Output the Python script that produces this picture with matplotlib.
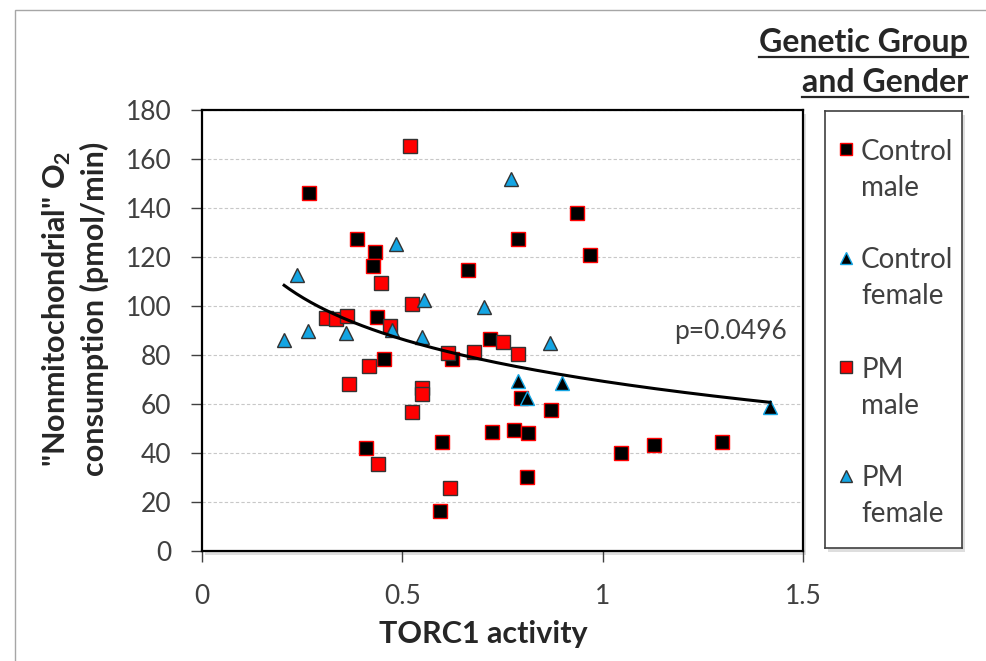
import matplotlib
matplotlib.use("Agg")
import matplotlib.pyplot as plt
from matplotlib.patches import Rectangle
from matplotlib.lines import Line2D
import numpy as np

plt.rcParams['font.family'] = ['Lato', 'DejaVu Sans']
plt.rcParams['mathtext.fontset'] = 'custom'
plt.rcParams['mathtext.rm'] = 'Lato'
plt.rcParams['mathtext.bf'] = 'Lato:bold'

# data
ctrl_male_x = [0.268, 0.388, 0.432, 0.427, 0.663, 0.438, 0.455, 0.625, 0.720, 0.797, 0.870,
               0.600, 0.725, 0.410, 0.595, 0.778, 0.813, 0.810, 1.045, 1.128, 1.297, 0.937,
               0.788, 0.968]
ctrl_male_y = [146.0, 127.5, 122.0, 116.5, 114.5, 95.7, 78.2, 78.2, 86.5, 62.5, 57.6,
               44.5, 48.5, 42.0, 16.3, 49.3, 48.0, 30.2, 39.9, 43.2, 44.6, 138.0,
               127.4, 121.0]

ctrl_female_x = [0.788, 0.898, 0.810, 1.418]
ctrl_female_y = [69.4, 68.4, 62.5, 58.8]

pm_male_x = [0.518, 0.448, 0.525, 0.310, 0.335, 0.362, 0.470, 0.615, 0.680, 0.750, 0.788,
             0.418, 0.368, 0.550, 0.550, 0.525, 0.440, 0.618]
pm_male_y = [165.5, 109.5, 101.0, 95.0, 94.5, 96.0, 92.0, 81.0, 81.4, 85.5, 80.6,
             75.7, 68.0, 66.6, 64.0, 56.6, 35.4, 25.7]

pm_female_x = [0.770, 0.485, 0.238, 0.555, 0.705, 0.264, 0.360, 0.473, 0.548, 0.205, 0.868]
pm_female_y = [152.0, 125.5, 112.5, 102.5, 99.5, 90.0, 88.8, 90.2, 87.3, 86.0, 85.0]

# logarithmic trendline y = a + b*ln(x), coefficients
trend_a = 69.3
trend_b = -24.7
p_text = "p=0.0496"

legend_labels = ["Control\nmale", "Control\nfemale", "PM\nmale", "PM\nfemale"]

RED = '#ff0000'
BLUE = '#14a5e3'
EDGE = '#333333'
TXT = '#404040'

W, H = 986, 661
def fx(px): return px / W
def fy(py): return 1 - py / H

fig = plt.figure(figsize=(W / 100, H / 100), dpi=100)

# outer chart border
fig.patches.append(Rectangle((fx(15), fy(700)), fx(1100), fy(10) - fy(700), transform=fig.transFigure,
                             fill=False, edgecolor='#a6a6a6', lw=1, zorder=-2))

# shadows behind plot area and legend
fig.patches.append(Rectangle((fx(205), fy(555)), fx(803) - fx(202), fy(113) - fy(554),
                             transform=fig.transFigure, facecolor='#dedede', edgecolor='none', zorder=-1))
fig.patches.append(Rectangle((fx(828), fy(552)), fx(962) - fx(825), fy(114) - fy(551),
                             transform=fig.transFigure, facecolor='#dedede', edgecolor='none', zorder=-1))

ax = fig.add_axes([fx(202), fy(551), fx(803) - fx(202), fy(110) - fy(551)])
ax.set_xlim(0, 1.5)
ax.set_ylim(0, 180)
ax.set_xticks([0, 0.5, 1, 1.5])
ax.set_xticklabels(['0', '0.5', '1', '1.5'])
ax.set_yticks(np.arange(0, 181, 20))
ax.yaxis.grid(True, color='#c8c8c8', linestyle=(0, (3, 2)), lw=0.8)
ax.set_axisbelow(True)
for s in ax.spines.values():
    s.set_color('black')
    s.set_linewidth(1.6)
ax.tick_params(direction='out', length=8, width=1, labelsize=19, labelcolor=TXT, color='#404040')
ax.tick_params(axis='y', pad=14)
ax.tick_params(axis='x', pad=16)

ms = 10.5
ax.plot(ctrl_male_x, ctrl_male_y, 's', ms=ms, mfc='black', mec=RED, mew=1.0, zorder=3)
ax.plot(ctrl_female_x, ctrl_female_y, '^', ms=ms, mfc='black', mec=BLUE, mew=1.0, zorder=3)
ax.plot(pm_male_x, pm_male_y, 's', ms=ms, mfc=RED, mec=EDGE, mew=1.0, zorder=3)
ax.plot(pm_female_x, pm_female_y, '^', ms=ms, mfc=BLUE, mec=EDGE, mew=1.0, zorder=3)

all_x = ctrl_male_x + ctrl_female_x + pm_male_x + pm_female_x
xt = np.linspace(min(all_x), max(all_x), 200)
ax.plot(xt, trend_a + trend_b * np.log(xt), color='black', lw=2.2, zorder=4)

ax.text(1.46, 89.4, p_text, ha='right', va='center', fontsize=19, color=TXT)

# axis titles
fig.text(fx(483), fy(634), "TORC1 activity", ha='center', va='center', fontsize=22,
         fontweight='bold', color='#262626')
fig.text(fx(75), fy(309), '"Nonmitochondrial" O$_\\mathbf{2}$\nconsumption (pmol/min)', rotation=90,
         ha='center', va='center', fontsize=22, fontweight='bold', color='#262626',
         multialignment='center', linespacing=1.25)

# legend title, underlined
t1 = fig.text(fx(968), fy(52), "Genetic Group", ha='right', va='baseline', fontsize=23,
              fontweight='bold', color='#262626')
t2 = fig.text(fx(968), fy(92), "and Gender", ha='right', va='baseline', fontsize=23,
              fontweight='bold', color='#262626')
fig.canvas.draw()
r = fig.canvas.get_renderer()
for t, uy in [(t1, 57), (t2, 97)]:
    bb = t.get_window_extent(r)
    fig.lines.append(Line2D([bb.x0 / W, bb.x1 / W], [fy(uy), fy(uy)], transform=fig.transFigure,
                            color='#262626', lw=1.6))

# legend box
lax = fig.add_axes([fx(825), fy(548), fx(962) - fx(825), fy(111) - fy(548)])
lax.set_xlim(825, 962)
lax.set_ylim(548, 111)
lax.set_xticks([])
lax.set_yticks([])
for s in lax.spines.values():
    s.set_color('#404040')
    s.set_linewidth(1.2)
leg_styles = [
    dict(marker='s', mfc='black', mec=RED),
    dict(marker='^', mfc='black', mec=BLUE),
    dict(marker='s', mfc=RED, mec=EDGE),
    dict(marker='^', mfc=BLUE, mec=EDGE),
]
for i, (lab, st) in enumerate(zip(legend_labels, leg_styles)):
    y0 = 149 + i * 109
    lax.plot([846], [y0], ls='none', ms=9, mew=1.0, **st)
    for j, line in enumerate(lab.split('\n')):
        lax.text(861, y0 + j * 36, line, ha='left', va='center_baseline', fontsize=20, color=TXT)

fig.savefig("out.png", dpi=100)
